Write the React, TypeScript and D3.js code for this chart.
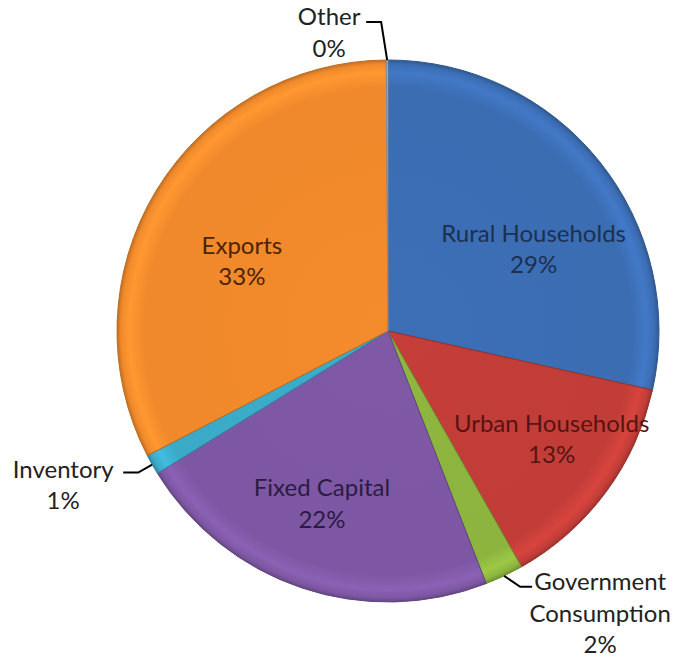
import React from "react";
import * as d3 from "d3";

const categories = [
  "Rural Households",
  "Urban Households",
  "Government Consumption",
  "Fixed Capital",
  "Inventory",
  "Exports",
  "Other",
];
const values = [28.5, 13.3, 2.3, 22.1, 1.2, 32.5, 0.1];
const labelLines = [
  ["Rural Households"],
  ["Urban Households"],
  ["Government", "Consumption"],
  ["Fixed Capital"],
  ["Inventory"],
  ["Exports"],
  ["Other"],
];
const colors = ["#3B6DB3", "#C23D38", "#8CB43E", "#7D57A3", "#3AAAC8", "#F0892B", "#9BB5D9"];
const textColors = ["#1C3050", "#561412", "#222222", "#2B1B42", "#222222", "#4A2405", "#222222"];

// label layout: inside labels -> polar (angle deg, radius); outside -> leader elbow/end and text offsets
type Layout =
  | { kind: "in"; angle: number; r: number }
  | { kind: "out"; elbow: [number, number]; run: number; text: [number, number] };
const layout: Layout[] = [
  { kind: "in", angle: 60.7, r: 167 },
  { kind: "in", angle: 123.4, r: 196 },
  { kind: "out", elbow: [16, 11], run: 12, text: [68, -5] },
  { kind: "in", angle: 200.9, r: 185 },
  { kind: "out", elbow: [-14, 8], run: -15, text: [-60, -3] },
  { kind: "in", angle: 295.6, r: 162 },
  { kind: "out", elbow: [-6, -38], run: -15, text: [-37, -5] },
];

const W = 679;
const H = 669;
const CX = 388;
const CY = 331;
const R = 271;
const FS = 24;
const LH = 31.5;
const FONT = "Lato, 'Open Sans', sans-serif";

export default function App() {
  const total = d3.sum(values);
  const pie = d3.pie<number>().sort(null).value((d) => d)(values);
  const arc = d3.arc<d3.PieArcDatum<number>>().innerRadius(0).outerRadius(R);
  const pct = (v: number) => `${Math.round((v / total) * 100)}%`;

  return (
    <svg
      width={W}
      height={H}
      style={{ position: "absolute", left: 0, top: 0, background: "#fff" }}
      fontFamily={FONT}
    >
      <defs>
        {colors.map((c, i) => {
          const base = d3.color(c)!;
          return (
            <radialGradient
              key={i}
              id={`g${i}`}
              gradientUnits="userSpaceOnUse"
              cx={0}
              cy={0}
              r={R}
            >
              <stop offset="0" stopColor={base.brighter(0.05).formatHex()} />
              <stop offset="0.9" stopColor={c} />
              <stop offset="0.955" stopColor={base.brighter(0.3).formatHex()} />
              <stop offset="0.985" stopColor={c} />
              <stop offset="1" stopColor={base.darker(0.6).formatHex()} />
            </radialGradient>
          );
        })}
      </defs>
      <g transform={`translate(${CX},${CY})`}>
        {pie.map((p, i) => (
          <path
            key={categories[i]}
            d={arc(p) || ""}
            fill={`url(#g${i})`}
            stroke={d3.color(colors[i])!.darker(0.7).formatHex()}
            strokeWidth={1}
            strokeLinejoin="round"
          />
        ))}
      </g>
      {pie.map((p, i) => {
        const L = layout[i];
        const lines = [...labelLines[i], pct(values[i])];
        if (L.kind === "in") {
          const a = (L.angle * Math.PI) / 180;
          const x = CX + L.r * Math.sin(a);
          const y = CY - L.r * Math.cos(a);
          return (
            <text
              key={i}
              textAnchor="middle"
              fontSize={FS}
              fill={textColors[i]}
            >
              {lines.map((t, k) => (
                <tspan key={k} x={x} y={y + (k - (lines.length - 1) / 2) * LH} dy="0.35em">
                  {t}
                </tspan>
              ))}
            </text>
          );
        }
        const mid = (p.startAngle + p.endAngle) / 2;
        const ex = CX + R * Math.sin(mid);
        const ey = CY - R * Math.cos(mid);
        const bx = ex + L.elbow[0];
        const by = ey + L.elbow[1];
        const tx = bx + L.run;
        const cx = tx + L.text[0];
        const cy0 = by + L.text[1];
        return (
          <g key={i}>
            <polyline
              points={`${ex},${ey} ${bx},${by} ${tx},${by}`}
              fill="none"
              stroke="#000"
              strokeWidth={2}
            />
            <text textAnchor="middle" fontSize={FS} fill="#222">
              {lines.map((t, k) => (
                <tspan key={k} x={cx} y={cy0 + k * LH} dy="0.35em">
                  {t}
                </tspan>
              ))}
            </text>
          </g>
        );
      })}
    </svg>
  );
}
